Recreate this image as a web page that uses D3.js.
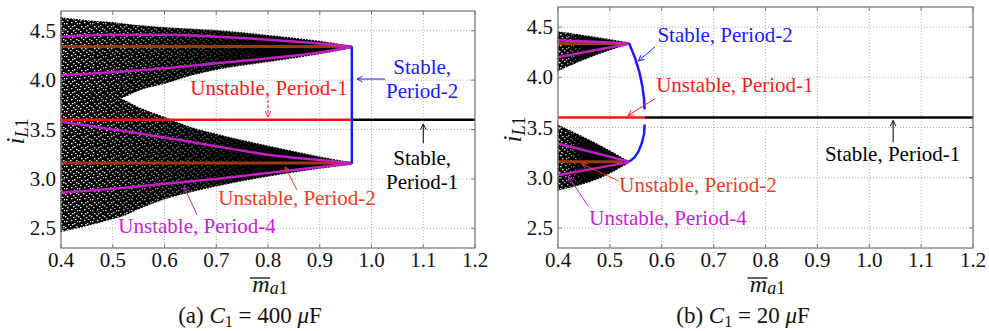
<!DOCTYPE html>
<html><head><meta charset="utf-8">
<script src="https://cdn.jsdelivr.net/npm/d3@7"></script>
<style>
body{margin:0;background:#fff}
svg{display:block}
</style>
</head><body>
<svg id="c" width="989" height="331"></svg>
<script>
// ---------- shared axes ----------
const xTicks = [0.4,0.5,0.6,0.7,0.8,0.9,1.0,1.1,1.2];
const xTickLabels = ["0.4","0.5","0.6","0.7","0.8","0.9","1.0","1.1","1.2"];
const yTicks = [2.5,3.0,3.5,4.0,4.5];
const yTickLabels = ["2.5","3.0","3.5","4.0","4.5"];
const xDomain = [0.4,1.2];
const yDomain = [2.3,4.7];

// ---------- panel (a): C1 = 400 uF ----------
const aCloudX        = [0.4, 0.45, 0.5, 0.515, 0.55, 0.6, 0.65, 0.7, 0.8, 0.9, 0.962];
const aCloudUpperTop = [4.63,4.60,4.58,4.57, 4.55,4.53,4.515,4.50,4.45,4.39,4.34];
const aCloudUpperBot = [3.80,3.80,3.80,3.82, 3.90,3.97,4.05, 4.11,4.19,4.27,4.33];
const aCloudLowerTop = [3.84,3.84,3.84,3.81, 3.72,3.62,3.52, 3.45,3.33,3.22,3.16];
const aCloudLowerBot = [2.47,2.53,2.60,2.62, 2.70,2.80,2.87, 2.93,3.03,3.11,3.15];
const aP4X = [0.4,0.5,0.6,0.7,0.8,0.9,0.962];
const aP4a = [4.44,4.46,4.46,4.44,4.41,4.37,4.34];
const aP4b = [4.05,4.08,4.12,4.17,4.22,4.28,4.335];
const aP4c = [3.58,3.50,3.42,3.33,3.245,3.19,3.16];
const aP4d = [2.86,2.90,2.95,3.00,3.06,3.12,3.155];
const aP2UnstX = [0.4,0.955];
const aP2UnstA = [4.34,4.34];
const aP2UnstB = [3.16,3.16];
const aP2StabX = [0.962,0.962];
const aP2StabY = [4.335,3.155];
const aP1UnstX = [0.4,0.962];
const aP1StabX = [0.962,1.2];
const aP1Value = 3.6;

// ---------- panel (b): C1 = 20 uF ----------
const bCloudX        = [0.4, 0.48, 0.537];
const bCloudUpperTop = [4.45,4.39,4.34];
const bCloudUpperBot = [4.07,4.24,4.335];
const bCloudLowerTop = [3.52,3.32,3.155];
const bCloudLowerBot = [2.88,3.00,3.155];
const bP4X = [0.4,0.537];
const bP4a = [4.37,4.34];
const bP4b = [4.20,4.335];
const bP4c = [3.34,3.16];
const bP4d = [3.025,3.155];
const bP2UnstX = [0.4,0.525];
const bP2UnstA = [4.337,4.337];
const bP2UnstB = [3.16,3.16];
const bP2UpperX = [0.537,0.548,0.557,0.563,0.566,0.567];
const bP2UpperY = [4.34, 4.20, 4.05, 3.90, 3.78, 3.68];
const bP2LowerX = [0.567,0.566,0.562,0.555,0.547,0.537];
const bP2LowerY = [3.53, 3.44, 3.35, 3.26, 3.20, 3.16];
const bP1UnstX = [0.4,0.567];
const bP1StabX = [0.567,1.2];
const bP1Value = 3.6;

// annotation labels (data units)
const aLabels = [
  {lines:["Unstable, Period-1"], x:0.802, y:3.85, c:"#ff1a1a"},
  {lines:["Stable,","Period-2"], x:1.098, y:4.062, c:"#1a1aff"},
  {lines:["Stable,","Period-1"], x:1.098, y:3.14, c:"#000"},
  {lines:["Unstable, Period-2"], x:0.856, y:2.735, c:"#e8401c"},
  {lines:["Unstable, Period-4"], x:0.663, y:2.452, c:"#cc22cc"}
];
const aArrows = [
  {x1:0.8, y1:3.80, x2:0.8, y2:3.63, c:"#ff1a1a", dash:true},
  {x1:1.026, y1:4.011, x2:0.972, y2:4.011, c:"#1a1aff"},
  {x1:1.1, y1:3.363, x2:1.1, y2:3.556, c:"#000"},
  {x1:0.856, y1:2.887, x2:0.833, y2:3.12, c:"#e8401c"},
  {x1:0.663, y1:2.634, x2:0.638, y2:2.918, c:"#cc22cc"}
];
const bLabels = [
  {lines:["Stable, Period-2"], x:0.722, y:4.353, c:"#1a1aff"},
  {lines:["Unstable, Period-1"], x:0.741, y:3.853, c:"#ff1a1a"},
  {lines:["Stable, Period-1"], x:1.045, y:3.17, c:"#000"},
  {lines:["Unstable, Period-2"], x:0.670, y:2.853, c:"#e8401c"},
  {lines:["Unstable, Period-4"], x:0.612, y:2.53, c:"#cc22cc"}
];
const bArrows = [
  {x1:0.587, y1:4.303, x2:0.555, y2:4.163, c:"#1a1aff"},
  {x1:0.587, y1:3.787, x2:0.535, y2:3.62, c:"#ff1a1a"},
  {x1:1.046, y1:3.353, x2:1.046, y2:3.57, c:"#000"},
  {x1:0.516, y1:2.97, x2:0.446, y2:3.137, c:"#e8401c"},
  {x1:0.458, y1:2.72, x2:0.42, y2:3.01, c:"#cc22cc"}
];

const COL = {p4:"#c21fc7", p2u:"#9b3a10", p2s:"#1a1aff", p1u:"#ff1010", p1s:"#000"};
const FONT = '"Liberation Serif"';

const svg = d3.select("#c");
const defs = svg.append("defs");
// speckle texture for the chaotic cloud
const pat = defs.append("pattern").attr("id","speck").attr("patternUnits","userSpaceOnUse")
  .attr("width",13).attr("height",11);
pat.append("rect").attr("width",13).attr("height",11).attr("fill","#000");
[[1,1],[6,0],[3,4],[9,3],[0,7],[5,6],[8,8],[11,6],[2,9],[7,4],[12,1],[10,10]].forEach(d=>
  pat.append("rect").attr("x",d[0]).attr("y",d[1]).attr("width",1.5).attr("height",1.3).attr("fill","#fff"));
function makeFade(id, x0, x1){
  const g = defs.append("linearGradient").attr("id",id+"g").attr("gradientUnits","userSpaceOnUse")
    .attr("x1",x0).attr("x2",x1).attr("y1",0).attr("y2",0);
  g.append("stop").attr("offset",0).attr("stop-color","#fff").attr("stop-opacity",1);
  g.append("stop").attr("offset",1).attr("stop-color","#fff").attr("stop-opacity",0);
  const m = defs.append("mask").attr("id",id).attr("maskUnits","userSpaceOnUse")
    .attr("x",0).attr("y",0).attr("width",989).attr("height",331);
  m.append("rect").attr("width",989).attr("height",331).attr("fill","url(#"+id+"g)");
}
function marker(id,c){
  defs.append("marker").attr("id",id).attr("viewBox","0 0 10 10").attr("refX",9).attr("refY",5)
    .attr("markerWidth",7).attr("markerHeight",7).attr("orient","auto").attr("markerUnits","userSpaceOnUse")
    .append("path").attr("d","M1,1 L9,5 L1,9").attr("fill","none").attr("stroke",c).attr("stroke-width",1.3);
}
function txt(sel){ return sel.append("text").style("font-family",FONT); }

function panel(cfg){
  const x = d3.scaleLinear().domain(xDomain).range([cfg.l, cfg.r]);
  const y = d3.scaleLinear().domain(yDomain).range([cfg.b, cfg.t]);
  const g = svg.append("g");
  // grid
  g.append("g").selectAll("line").data(xTicks.slice(1,-1)).join("line")
    .attr("x1",d=>x(d)).attr("x2",d=>x(d)).attr("y1",cfg.t).attr("y2",cfg.b)
    .attr("stroke","#b0b0b0").attr("stroke-width",1).attr("stroke-dasharray","1,2");
  g.append("g").selectAll("line").data(yTicks).join("line")
    .attr("x1",cfg.l).attr("x2",cfg.r).attr("y1",d=>y(d)).attr("y2",d=>y(d))
    .attr("stroke","#b0b0b0").attr("stroke-width",1).attr("stroke-dasharray","1,2");

  // chaotic clouds
  const area = d3.area().curve(d3.curveMonotoneX).x(d=>x(d.x)).y0(d=>y(d.lo)).y1(d=>y(d.hi));
  const up = cfg.cx.map((v,i)=>({x:v, hi:cfg.uTop[i], lo:cfg.uBot[i]}));
  const lo = cfg.cx.map((v,i)=>({x:v, hi:cfg.lTop[i], lo:cfg.lBot[i]}));
  makeFade(cfg.id+"m", cfg.l, x(cfg.cx[cfg.cx.length-1])*cfg.fade + cfg.l*(1-cfg.fade));
  [up,lo].forEach(dd=>{
    g.append("path").attr("d",area(dd)).attr("fill","#000").attr("stroke","#000").attr("stroke-width",1.5)
     .attr("stroke-dasharray","2,1");
    g.append("path").attr("d",area(dd)).attr("fill","url(#speck)").attr("mask","url(#"+cfg.id+"m)");
  });

  const line = d3.line().x(d=>x(d[0])).y(d=>y(d[1]));
  const ln = (xs,ys,c,w)=>g.append("path").attr("d",line(xs.map((v,i)=>[v,ys[i]])))
      .attr("fill","none").attr("stroke",c).attr("stroke-width",w).attr("stroke-linejoin","round");
  const lineC = d3.line().curve(d3.curveMonotoneX).x(d=>x(d[0])).y(d=>y(d[1]));
  ln(cfg.p2x, cfg.p2a, COL.p2u, 3);
  ln(cfg.p2x, cfg.p2b, COL.p2u, 3);
  [cfg.p4a,cfg.p4b,cfg.p4c,cfg.p4d].forEach(ys=>{
    g.append("path").attr("d",(cfg.p4x.length>2?lineC:line)(cfg.p4x.map((v,i)=>[v,ys[i]])))
     .attr("fill","none").attr("stroke",COL.p4).attr("stroke-width",2.5);
  });
  ln(cfg.p1u, cfg.p1u.map(()=>cfg.p1v), COL.p1u, 2.5);
  ln(cfg.p1s, cfg.p1s.map(()=>cfg.p1v), COL.p1s, 2.5);
  cfg.p2s.forEach(s=>ln(s[0], s[1], COL.p2s, 2.5));

  // frame + ticks
  g.append("rect").attr("x",cfg.l).attr("y",cfg.t).attr("width",cfg.r-cfg.l).attr("height",cfg.b-cfg.t)
    .attr("fill","none").attr("stroke","#7a7a7a").attr("stroke-width",1.3);
  const tk = g.append("g").attr("stroke","#7a7a7a").attr("stroke-width",1);
  xTicks.forEach(d=>{
    tk.append("line").attr("x1",x(d)).attr("x2",x(d)).attr("y1",cfg.b).attr("y2",cfg.b-4);
    tk.append("line").attr("x1",x(d)).attr("x2",x(d)).attr("y1",cfg.t).attr("y2",cfg.t+4);
  });
  yTicks.forEach(d=>{
    tk.append("line").attr("x1",cfg.l).attr("x2",cfg.l+4).attr("y1",y(d)).attr("y2",y(d));
    tk.append("line").attr("x1",cfg.r).attr("x2",cfg.r-4).attr("y1",y(d)).attr("y2",y(d));
  });
  xTicks.forEach((d,i)=>txt(g).attr("x",x(d)).attr("y",cfg.b+19).attr("text-anchor","middle")
    .attr("font-size",21).attr("fill","#111").text(xTickLabels[i]));
  yTicks.forEach((d,i)=>txt(g).attr("x",cfg.l-5).attr("y",y(d)+7).attr("text-anchor","end")
    .attr("font-size",21).attr("fill","#111").text(yTickLabels[i]));

  // x label  m̄_a1
  const xm = (cfg.l+cfg.r)/2;
  const xl = txt(g).attr("x",xm+2).attr("y",cfg.b+44).attr("text-anchor","middle").attr("font-size",24).attr("fill","#111");
  xl.append("tspan").attr("font-style","italic").text("m");
  xl.append("tspan").attr("font-size",18).attr("dy",2).attr("font-style","italic").text("a");
  xl.append("tspan").attr("font-size",18).text("1");
  g.append("line").attr("x1",xm-18).attr("x2",xm+2).attr("y1",cfg.b+30).attr("y2",cfg.b+30).attr("stroke","#111").attr("stroke-width",1.3);

  // y label  i_L1
  const yl = txt(g).attr("transform",`translate(${cfg.l-37},${(cfg.t+cfg.b)/2+2}) rotate(-90)`)
    .attr("text-anchor","middle").attr("font-size",25).attr("fill","#111");
  yl.append("tspan").attr("font-style","italic").text("i");
  yl.append("tspan").attr("font-size",18).attr("dy",4).attr("font-style","italic").text("L");
  yl.append("tspan").attr("font-size",18).text("1");

  // caption
  const cp = txt(g).attr("x",cfg.capX).attr("y",323).attr("text-anchor","middle").attr("font-size",23).attr("fill","#111");
  cp.append("tspan").text(cfg.cap[0]+" ");
  cp.append("tspan").attr("font-style","italic").text("C");
  cp.append("tspan").attr("font-size",16).attr("dy",4).text("1");
  cp.append("tspan").attr("dy",-4).text(" = "+cfg.cap[1]+" ");
  cp.append("tspan").attr("font-style","italic").text("μ");
  cp.append("tspan").text("F");

  // annotations
  cfg.arrows.forEach((a,i)=>{
    const mid = cfg.id+"ar"+i; marker(mid, a.c);
    g.append("line").attr("x1",x(a.x1)).attr("y1",y(a.y1)).attr("x2",x(a.x2)).attr("y2",y(a.y2))
      .attr("stroke",a.c).attr("stroke-width",1).attr("stroke-dasharray",a.dash?"3,2":null)
      .attr("marker-end","url(#"+mid+")");
  });
  cfg.labels.forEach(lb=>{
    lb.lines.forEach((s,k)=>{
      txt(g).attr("x",x(lb.x)).attr("y",y(lb.y)+k*23.5).attr("text-anchor","middle")
        .attr("font-size",21).attr("fill",lb.c).text(s);
    });
  });
}

panel({id:"a", l:61, r:475, t:11, b:248, fade:0.75,
  cx:aCloudX, uTop:aCloudUpperTop, uBot:aCloudUpperBot, lTop:aCloudLowerTop, lBot:aCloudLowerBot,
  p4x:aP4X, p4a:aP4a, p4b:aP4b, p4c:aP4c, p4d:aP4d,
  p2x:aP2UnstX, p2a:aP2UnstA, p2b:aP2UnstB,
  p2s:[[aP2StabX, aP2StabY]],
  p1u:aP1UnstX, p1s:aP1StabX, p1v:aP1Value,
  labels:aLabels, arrows:aArrows, capX:250, cap:["(a)","400"]});
panel({id:"b", l:558, r:973, t:7, b:248, fade:0.4,
  cx:bCloudX, uTop:bCloudUpperTop, uBot:bCloudUpperBot, lTop:bCloudLowerTop, lBot:bCloudLowerBot,
  p4x:bP4X, p4a:bP4a, p4b:bP4b, p4c:bP4c, p4d:bP4d,
  p2x:bP2UnstX, p2a:bP2UnstA, p2b:bP2UnstB,
  p2s:[[bP2UpperX,bP2UpperY],[bP2LowerX,bP2LowerY]],
  p1u:bP1UnstX, p1s:bP1StabX, p1v:bP1Value,
  labels:bLabels, arrows:bArrows, capX:743, cap:["(b)","20"]});
</script>
</body></html>
